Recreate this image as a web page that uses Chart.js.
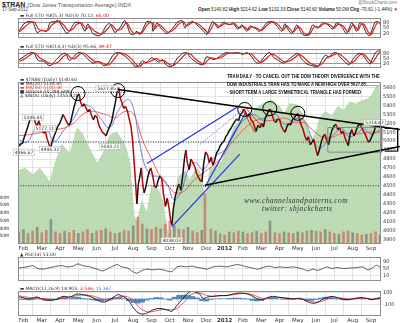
<!DOCTYPE html>
<html lang="en">
<head>
<meta charset="UTF-8">
<title>$TRAN Daily</title>
<script src="https://cdn.jsdelivr.net/npm/chart.js"></script>
<style>
  body { margin:0; width:400px; height:323px; background:#fff; position:relative; overflow:hidden; font-family:"Liberation Sans", Arial, sans-serif; }
  canvas { position:absolute; left:0; }
  .txt { position:absolute; white-space:nowrap; line-height:1; color:#222; }
  .leg { position:absolute; white-space:nowrap; font-size:4.5px; line-height:4px; color:#333; font-family:"DejaVu Sans", sans-serif; }
  .note { position:absolute; left:227px; top:72px; font-weight:bold; font-size:5px; line-height:8px; color:#111; transform:scaleX(0.84); transform-origin:left top; white-space:nowrap; }
  .mark { position:absolute; font-family:"Liberation Serif", serif; font-style:italic; color:#333; white-space:nowrap; letter-spacing:0.4px; }
</style>
</head>
<body>
<div class="txt" style="left:2px;top:1px;font-size:7px"><b>$TRAN</b> <span style="color:#555;font-size:5.5px">(Dow Jones Transportation Average) INDX</span></div>
<div class="txt" style="left:2px;top:8px;font-size:4.5px;color:#444">17-Sep-2012</div>
<div class="txt" style="right:3px;top:1px;font-size:4.5px;color:#777">@StockCharts.com</div>
<div class="txt" style="right:2px;top:8px;font-size:4.6px"><b>Open</b> 5140.82 <b>High</b> 5214.62 <b>Low</b> 5132.33 <b>Close</b> 5140.60 <b>Volume</b> 50.0M <b>Chg</b> -70.61 (-1.44%) <span style="color:#c00">&#9660;</span></div>

<canvas id="sto1" width="400" height="30" style="top:13px"></canvas>
<canvas id="sto2" width="400" height="29" style="top:44px"></canvas>
<canvas id="main" width="400" height="178" style="top:74px"></canvas>
<canvas id="rsi" width="400" height="34" style="top:252px"></canvas>
<canvas id="macd" width="400" height="37" style="top:286px"></canvas>

<div class="leg" style="left:20px;top:14px">&#9644; Full STO %K(5,3) %D(3) 70.12, <span style="color:#d00">65.00</span></div>
<div class="leg" style="left:20px;top:45px">&#9644; Full STO %K(14,3) %D(3) 95.66, <span style="color:#d00">89.47</span></div>
<div class="leg" style="left:20px;top:78px">
  <div>&#9644; $TRAN (Daily) 5140.60</div>
  <div style="color:#2233cc">&#9644; <span style="color:#333">MA(20) 5134.45</span></div>
  <div style="color:#e33">&#9644; MA(50) 5100.38</div>
  <div>&#9632; Volume 50,288,688</div>
  <div><span style="color:#7aa870">&#9650;</span> $INDU (Daily) 13553.10</div>
</div>
<div class="leg" style="left:20px;top:253px">&#9650; RSI(14) 53.00</div>
<div class="leg" style="left:20px;top:287px">&#9644; MACD(12,26,9) 18.903, <span style="color:#d00">3.536</span>, <span style="color:#3b7dbf">15.367</span></div>

<div class="note">
  <div>TRAN DAILY - TO CANCEL OUT THE DOW THEORY DIVERGENCE WITH THE</div>
  <div>DOW INDUSTRIALS TRAN HAS TO MAKE A NEW HIGH OVER 5627.85..........</div>
  <div>- SHORT TERM A LARGE SYMMETRICAL TRIANGLE HAS FORMED</div>
</div>
<div class="mark" style="left:244px;top:196px;font-size:7.5px">www.channelsandpatterns.com</div>
<div class="mark" style="left:262px;top:204px;font-size:7.5px">twitter: shjackcharts</div>

<script>
// x values are months: 1 = Feb 2011 ... 20 = Sep 2012
const monthLabels = ['Feb','Mar','Apr','May','Jun','Jul','Aug','Sep','Oct','Nov','Dec','2012','Feb','Mar','Apr','May','Jun','Jul','Aug','Sep'];
const X_MIN = 0.70, X_MAX = 20.55;

const tranClose = [[0.70,4990],[0.78,4945],[0.86,4975],[0.94,4970],[1.02,5030],[1.12,5090],[1.22,5150],[1.32,5220],[1.42,5260],[1.52,5300],[1.60,5240],[1.68,5190],[1.76,5180],[1.84,5230],[1.92,5170],[2.00,5140],[2.10,5090],[2.20,5110],[2.30,5020],[2.40,4960],[2.48,4920],[2.56,4990],[2.66,5050],[2.76,5100],[2.86,5160],[2.96,5190],[3.06,5240],[3.16,5300],[3.26,5260],[3.36,5220],[3.46,5180],[3.56,5200],[3.66,5290],[3.76,5380],[3.86,5450],[3.96,5510],[4.04,5530],[4.12,5440],[4.22,5390],[4.32,5420],[4.42,5370],[4.52,5330],[4.62,5360],[4.72,5290],[4.82,5240],[4.92,5290],[5.02,5270],[5.12,5180],[5.22,5140],[5.32,5100],[5.42,5080],[5.52,5060],[5.62,5120],[5.72,5170],[5.82,5220],[5.92,5330],[6.02,5430],[6.12,5560],[6.20,5600],[6.28,5500],[6.38,5430],[6.48,5370],[6.58,5390],[6.68,5340],[6.78,5250],[6.88,5160],[6.96,5020],[7.04,4800],[7.12,4560],[7.20,4300],[7.28,4520],[7.36,4600],[7.44,4700],[7.52,4520],[7.60,4420],[7.68,4480],[7.76,4560],[7.86,4650],[7.96,4700],[8.06,4620],[8.16,4500],[8.26,4480],[8.36,4560],[8.46,4610],[8.56,4580],[8.66,4400],[8.76,4270],[8.86,4360],[8.96,4250],[9.04,4120],[9.11,4060],[9.20,4250],[9.30,4380],[9.40,4460],[9.50,4520],[9.60,4450],[9.70,4600],[9.80,4800],[9.88,4900],[9.96,4760],[10.06,4680],[10.16,4800],[10.26,4760],[10.36,4720],[10.46,4640],[10.56,4600],[10.66,4560],[10.76,4545],[10.86,4760],[10.96,4880],[11.06,4850],[11.16,4760],[11.26,4820],[11.36,4730],[11.46,4790],[11.56,4870],[11.66,4900],[11.76,4950],[11.86,4980],[11.96,5000],[12.06,5050],[12.16,5080],[12.26,5120],[12.36,5150],[12.46,5190],[12.56,5220],[12.66,5250],[12.76,5230],[12.86,5300],[12.96,5320],[13.06,5360],[13.14,5330],[13.24,5280],[13.34,5310],[13.44,5240],[13.54,5220],[13.64,5160],[13.72,5110],[13.82,5180],[13.92,5150],[14.02,5200],[14.12,5160],[14.22,5260],[14.32,5300],[14.42,5350],[14.50,5360],[14.60,5290],[14.70,5230],[14.80,5210],[14.90,5250],[15.00,5240],[15.10,5170],[15.20,5130],[15.30,5100],[15.40,5160],[15.50,5200],[15.60,5180],[15.70,5240],[15.80,5260],[15.90,5290],[16.00,5310],[16.08,5260],[16.18,5180],[16.28,5140],[16.38,5060],[16.48,5010],[16.58,5050],[16.68,4960],[16.78,4990],[16.88,5020],[16.98,4920],[17.08,4840],[17.18,4900],[17.28,4990],[17.38,5050],[17.48,5080],[17.58,5010],[17.68,4960],[17.78,5060],[17.88,5130],[17.98,5170],[18.08,5190],[18.18,5130],[18.28,5150],[18.38,5090],[18.48,5110],[18.58,5040],[18.68,4990],[18.76,4950],[18.86,5080],[18.96,5130],[19.06,5060],[19.16,5100],[19.26,5160],[19.36,5190],[19.46,5170],[19.56,5120],[19.66,5090],[19.76,5040],[19.86,4990],[19.96,5010],[20.06,5060],[20.16,5100],[20.26,5170],[20.36,5190],[20.46,5211],[20.53,5141]];

const ma20 = [[0.70,5020],[1.2,4990],[1.7,5150],[2.2,5150],[2.7,5000],[3.2,5120],[3.7,5240],[4.2,5400],[4.7,5380],[5.2,5260],[5.7,5150],[6.2,5350],[6.7,5470],[7.0,5380],[7.3,5050],[7.6,4750],[8.0,4620],[8.5,4600],[8.9,4500],[9.2,4350],[9.6,4420],[10.0,4680],[10.4,4760],[10.8,4680],[11.2,4770],[11.6,4850],[12.0,4900],[12.4,5060],[12.8,5180],[13.2,5260],[13.6,5300],[14.0,5250],[14.4,5280],[14.8,5300],[15.2,5200],[15.6,5200],[16.0,5260],[16.4,5220],[16.8,5020],[17.2,4920],[17.6,5000],[18.0,5080],[18.4,5140],[18.8,5050],[19.2,5080],[19.6,5140],[20.0,5080],[20.53,5130]];

const ma50 = [[0.70,5060],[1.5,5080],[2.5,5120],[3.5,5170],[4.5,5330],[5.5,5300],[6.0,5260],[6.5,5330],[7.0,5310],[7.5,5020],[8.0,4800],[8.5,4600],[9.0,4480],[9.3,4420],[9.8,4440],[10.3,4560],[10.8,4640],[11.3,4720],[11.8,4810],[12.3,4960],[12.8,5080],[13.3,5180],[13.8,5240],[14.3,5230],[14.8,5240],[15.3,5260],[15.8,5210],[16.3,5210],[16.8,5130],[17.3,5050],[17.8,5040],[18.3,5080],[18.8,5090],[19.3,5080],[19.8,5100],[20.53,5100]];

const induClose = [[0.70,11931],[1.08,11985],[1.52,11858],[1.90,11985],[2.45,11713],[2.72,12076],[3.10,12440],[3.54,12258],[3.92,12749],[4.20,12658],[4.63,12349],[5.02,12076],[5.34,12258],[5.73,12622],[6.11,12676],[6.55,12440],[6.82,12076],[7.04,11076],[7.20,10949],[7.48,11349],[7.75,11131],[8.02,11658],[8.35,11585],[8.62,11349],[8.90,10713],[9.11,10804],[9.44,11804],[9.83,11931],[10.10,11749],[10.43,11985],[10.75,11858],[10.92,11258],[11.19,11985],[11.52,12040],[11.85,12113],[12.17,12440],[12.56,12804],[12.99,12949],[13.38,13022],[13.81,13167],[14.20,13240],[14.58,13295],[15.02,13167],[15.24,13022],[15.56,13222],[15.95,13204],[16.27,13022],[16.55,12713],[16.76,12531],[16.98,12658],[17.20,12949],[17.52,13076],[17.85,12985],[18.19,13167],[18.51,13095],[18.84,13258],[19.17,13222],[19.50,13276],[19.83,13313],[20.04,13385],[20.31,13567],[20.53,13604]];

// volume in millions, roughly weekly
const volume = [[0.75,80],[1.0,95],[1.25,70],[1.5,85],[1.75,110],[2.0,75],[2.25,90],[2.5,160],[2.75,80],[3.0,70],[3.25,85],[3.5,75],[3.75,90],[4.0,70],[4.25,80],[4.5,95],[4.75,70],[5.0,85],[5.25,90],[5.5,100],[5.75,80],[6.0,70],[6.25,75],[6.5,90],[6.75,85],[7.0,120],[7.25,175],[7.5,130],[7.75,100],[8.0,95],[8.25,110],[8.5,100],[8.75,130],[9.0,150],[9.25,120],[9.5,100],[9.75,95],[10.0,110],[10.25,85],[10.5,75],[10.75,90],[10.92,330],[11.25,100],[11.5,85],[11.75,70],[12.0,60],[12.25,80],[12.5,75],[12.75,85],[13.0,80],[13.25,70],[13.5,75],[13.75,85],[14.0,70],[14.25,80],[14.48,150],[14.75,75],[15.0,70],[15.25,80],[15.5,75],[15.75,70],[16.0,80],[16.25,75],[16.5,85],[16.75,90],[17.0,85],[17.25,80],[17.5,95],[17.75,80],[18.0,70],[18.25,65],[18.5,80],[18.75,85],[19.0,75],[19.25,70],[19.5,60],[19.75,65],[20.0,70],[20.25,80],[20.5,60]];

const sto1K = [[0.70,21],[0.97,68],[1.25,86],[1.52,80],[1.74,27],[2.01,39],[2.28,33],[2.45,80],[2.72,86],[2.89,92],[3.16,51],[3.38,21],[3.65,57],[3.81,80],[4.09,80],[4.36,33],[4.52,74],[4.80,21],[5.18,10],[5.56,68],[5.73,74],[6.00,27],[6.27,51],[6.55,92],[6.83,21],[6.98,15],[7.20,33],[7.37,15],[7.75,86],[8.02,80],[8.08,33],[8.30,80],[8.46,57],[8.62,39],[8.84,21],[9.17,51],[9.39,80],[9.66,92],[9.83,51],[9.99,74],[10.26,86],[10.54,62],[10.75,45],[11.03,15],[11.19,57],[11.36,86],[11.63,51],[11.90,80],[12.28,68],[12.45,80],[12.72,45],[12.94,68],[13.21,33],[13.38,62],[13.65,51],[13.92,33],[14.31,80],[14.58,86],[14.85,62],[15.13,33],[15.29,74],[15.45,45],[15.67,21],[15.95,68],[16.11,39],[16.27,15],[16.55,12],[16.82,68],[17.09,51],[17.36,80],[17.64,68],[17.92,45],[18.13,80],[18.40,57],[18.67,21],[18.95,80],[19.22,33],[19.39,80],[19.55,68],[19.77,21],[19.93,10],[20.21,80],[20.37,86],[20.53,70]];
const sto1D = [[0.78,30],[1.05,55],[1.33,78],[1.60,82],[1.82,45],[2.09,35],[2.36,40],[2.53,65],[2.80,84],[2.97,88],[3.24,62],[3.46,35],[3.73,48],[3.89,70],[4.17,78],[4.44,45],[4.60,60],[4.88,35],[5.26,18],[5.64,50],[5.81,70],[6.08,40],[6.35,45],[6.63,80],[6.91,35],[7.06,20],[7.28,28],[7.45,22],[7.83,75],[8.10,78],[8.16,45],[8.38,70],[8.54,62],[8.70,45],[8.92,28],[9.25,45],[9.47,70],[9.74,86],[9.91,62],[10.07,70],[10.34,82],[10.62,68],[10.83,50],[11.11,25],[11.27,48],[11.44,78],[11.71,58],[11.98,74],[12.36,70],[12.53,76],[12.80,52],[13.02,62],[13.29,40],[13.46,55],[13.73,52],[14.00,38],[14.39,72],[14.66,84],[14.93,68],[15.21,40],[15.37,65],[15.53,50],[15.75,28],[16.03,60],[16.19,45],[16.35,22],[16.63,15],[16.90,58],[17.17,55],[17.44,74],[17.72,70],[18.00,52],[18.21,72],[18.48,62],[18.75,30],[19.03,70],[19.30,40],[19.47,72],[19.63,70],[19.85,30],[20.01,15],[20.29,70],[20.45,82],[20.53,65]];

const sto2K = [[0.70,40],[1.0,60],[1.3,80],[1.55,85],[1.8,40],[2.1,35],[2.45,10],[2.8,45],[3.1,75],[3.3,80],[3.5,40],[3.7,55],[4.0,85],[4.2,80],[4.5,50],[4.8,25],[5.1,35],[5.4,10],[5.6,20],[5.9,70],[6.1,85],[6.3,80],[6.6,60],[6.9,30],[7.1,5],[7.3,10],[7.5,40],[7.7,25],[8.0,55],[8.2,45],[8.4,30],[8.6,45],[8.8,15],[9.1,5],[9.4,50],[9.7,80],[9.9,85],[10.1,60],[10.3,40],[10.6,20],[10.8,15],[11.0,60],[11.2,55],[11.4,45],[11.7,60],[11.9,75],[12.1,85],[12.4,80],[12.7,85],[13.0,75],[13.2,85],[13.4,70],[13.7,30],[13.9,25],[14.2,65],[14.45,85],[14.7,55],[14.95,40],[15.2,25],[15.5,45],[15.8,70],[16.0,80],[16.2,50],[16.5,20],[16.8,10],[17.1,5],[17.3,40],[17.5,70],[17.7,60],[17.9,80],[18.1,85],[18.3,60],[18.6,30],[18.8,15],[19.0,45],[19.2,70],[19.4,80],[19.6,65],[19.8,35],[19.95,20],[20.1,55],[20.3,90],[20.53,95.7]];
const sto2D = [[0.78,35],[1.08,50],[1.38,72],[1.63,82],[1.88,55],[2.18,38],[2.53,20],[2.88,30],[3.18,62],[3.38,75],[3.58,55],[3.78,50],[4.08,75],[4.28,82],[4.58,60],[4.88,35],[5.18,30],[5.48,18],[5.68,15],[5.98,50],[6.18,78],[6.38,82],[6.68,68],[6.98,40],[7.18,15],[7.38,8],[7.58,28],[7.78,30],[8.08,42],[8.28,50],[8.48,38],[8.68,40],[8.88,25],[9.18,10],[9.48,35],[9.78,68],[9.98,82],[10.18,72],[10.38,50],[10.68,28],[10.88,18],[11.08,42],[11.28,55],[11.48,50],[11.78,55],[11.98,68],[12.18,80],[12.48,82],[12.78,82],[13.08,78],[13.28,80],[13.48,75],[13.78,42],[13.98,28],[14.28,50],[14.53,75],[14.78,68],[15.03,48],[15.28,32],[15.58,38],[15.88,60],[16.08,75],[16.28,62],[16.58,32],[16.88,15],[17.18,10],[17.38,28],[17.58,55],[17.78,62],[17.98,72],[18.18,80],[18.38,70],[18.68,42],[18.88,22],[19.08,35],[19.28,60],[19.48,75],[19.68,70],[19.88,45],[20.03,28],[20.18,40],[20.38,75],[20.53,89.5]];

const rsi14 = [[0.70,51],[1.19,58],[1.52,65],[1.74,51],[2.07,45],[2.45,54],[2.83,62],[3.10,65],[3.38,58],[3.70,62],[3.98,75],[4.25,65],[4.63,58],[5.02,45],[5.34,35],[5.73,54],[6.11,71],[6.38,58],[6.71,51],[6.98,31],[7.20,22],[7.48,38],[7.75,45],[8.08,41],[8.46,45],[8.84,35],[9.11,31],[9.39,58],[9.66,62],[9.93,58],[10.21,62],[10.54,54],[10.75,51],[11.03,45],[11.36,58],[11.74,62],[12.12,58],[12.39,65],[12.67,71],[12.83,69],[13.21,58],[13.54,51],[13.81,45],[14.20,58],[14.47,62],[14.74,54],[15.02,58],[15.40,54],[15.73,58],[16.11,51],[16.38,41],[16.55,35],[16.82,45],[17.09,38],[17.36,49],[17.58,58],[17.86,49],[18.13,54],[18.46,49],[18.84,51],[19.22,54],[19.55,58],[19.83,41],[20.10,54],[20.31,67],[20.53,53]];

const macdLine = [[0.70,43],[0.97,19],[1.36,0],[1.74,33],[2.07,-14],[2.45,-24],[2.83,-5],[3.16,43],[3.54,33],[3.92,81],[4.25,71],[4.63,43],[5.02,-14],[5.29,-52],[5.56,-38],[5.89,24],[6.16,71],[6.44,43],[6.71,-14],[6.98,-133],[7.26,-228],[7.53,-252],[7.80,-228],[8.08,-181],[8.46,-157],[8.84,-181],[9.11,-205],[9.39,-109],[9.66,-14],[9.93,81],[10.21,128],[10.48,105],[10.64,81],[10.81,10],[11.08,33],[11.36,43],[11.74,57],[12.12,57],[12.45,81],[12.72,95],[12.99,95],[13.27,81],[13.54,43],[13.81,0],[14.09,-14],[14.36,24],[14.63,43],[15.02,24],[15.40,10],[15.73,0],[16.11,10],[16.49,-38],[16.76,-71],[17.04,-62],[17.31,-14],[17.59,24],[17.92,43],[18.30,10],[18.67,-14],[19.00,0],[19.39,24],[19.77,10],[20.04,-14],[20.31,10],[20.53,19]];
const macdSignal = [[0.70,55],[1.2,30],[1.7,15],[2.2,5],[2.7,-10],[3.2,10],[3.7,40],[4.2,65],[4.7,55],[5.2,10],[5.6,-25],[6.0,5],[6.4,45],[6.8,20],[7.1,-60],[7.4,-160],[7.8,-215],[8.2,-200],[8.6,-175],[9.0,-180],[9.3,-170],[9.7,-80],[10.0,20],[10.3,90],[10.7,95],[11.0,60],[11.4,45],[11.8,52],[12.2,60],[12.6,78],[13.0,90],[13.4,80],[13.8,40],[14.1,10],[14.5,22],[14.9,28],[15.4,15],[15.8,5],[16.2,0],[16.6,-30],[17.0,-55],[17.4,-30],[17.8,15],[18.2,20],[18.6,5],[19.0,-2],[19.4,12],[19.8,8],[20.2,-5],[20.53,3.5]];
const macdHist = [[0.75,-10],[1.0,-8],[1.25,-15],[1.5,-10],[1.75,15],[2.0,5],[2.25,-15],[2.5,-20],[2.75,-5],[3.0,20],[3.25,30],[3.5,5],[3.75,25],[4.0,30],[4.25,10],[4.5,-5],[4.75,-15],[5.0,-25],[5.25,-35],[5.5,-15],[5.75,10],[6.0,25],[6.25,30],[6.5,5],[6.75,-30],[7.0,-60],[7.25,-70],[7.5,-55],[7.75,-20],[8.0,10],[8.25,25],[8.5,20],[8.75,-5],[9.0,-20],[9.25,30],[9.5,60],[9.75,65],[10.0,60],[10.25,40],[10.5,15],[10.75,-30],[11.0,-35],[11.25,-10],[11.5,0],[11.75,5],[12.0,2],[12.25,10],[12.5,15],[12.75,15],[13.0,8],[13.25,-5],[13.5,-25],[13.75,-35],[14.0,-25],[14.25,5],[14.5,20],[14.75,10],[15.0,0],[15.25,-5],[15.5,-8],[15.75,-5],[16.0,5],[16.25,-10],[16.5,-25],[16.75,-25],[17.0,-10],[17.25,15],[17.5,30],[17.75,25],[18.0,10],[18.25,-5],[18.5,-15],[18.75,-15],[19.0,0],[19.25,12],[19.5,8],[19.75,0],[20.0,-10],[20.25,5],[20.5,15]];

// hand-drawn annotations, in (month, price)
const triangleUpper = [[6.16,5579],[21.58,5132]];
const triangleLower = [[10.92,4505],[21.58,4941]];
const bracket = [[20.75,5143],[21.46,5143],[21.46,4888],[20.75,4888]];
const boxRange = [[17.64,5154],[20.59,5154],[20.59,4877],[17.64,4877],[17.64,5154]];
const blueLines = [[[7.75,4750],[12.72,5387]],[[9.11,4040],[12.83,4856]],[[10.92,4484],[13.16,5324]]];
const blueDashed = [[10.64,4962],[13.0,5356]];
const redLines = [[[12.94,5366],[13.65,5100]],[[13.10,5387],[14.08,5154]]];
const dottedLevels = [[0.70,20.55,4500],[0.70,20.55,4990],[0.70,6.5,5547]];
const circled = [[3.98,5535],[6.16,5568],[13.10,5356],[14.47,5366],[16.0,5313]];
const priceTags = [[1.52,5270,'5306.45'],[2.17,5143,'5177.11'],[1.03,4877,'4966.67'],[2.45,4909,'4906.32'],[5.73,4941,'5043.21'],[5.55,5595,'5627.85'],[9.11,3889,'4038.03'],[20.2,5207,'5214.62']];

const pts = a => a.map(([x, y]) => ({x, y}));
const FONT = 'DejaVu Sans';

const frame = {
  id: 'frame',
  afterDraw(c) {
    const {ctx, chartArea: a} = c;
    ctx.save();
    ctx.strokeStyle = '#8c8c8c';
    ctx.lineWidth = 1;
    ctx.strokeRect(a.left + 0.5, a.top + 0.5, a.right - a.left - 1, a.bottom - a.top - 1);
    ctx.restore();
  }
};

const tags = {
  id: 'tags',
  afterDatasetsDraw(c) {
    const xs = c.scales.x, ys = c.scales.y, ctx = c.ctx;
    ctx.save();
    ctx.font = '4.5px "' + FONT + '"';
    ctx.textAlign = 'center';
    ctx.textBaseline = 'middle';
    priceTags.forEach(([m, v, t]) => {
      const x = xs.getPixelForValue(m), y = ys.getPixelForValue(v);
      const w = ctx.measureText(t).width + 3;
      ctx.fillStyle = 'rgba(255,255,255,0.9)';
      ctx.fillRect(x - w / 2, y - 3, w, 6);
      ctx.strokeStyle = '#aaa';
      ctx.lineWidth = 0.5;
      ctx.strokeRect(x - w / 2, y - 3, w, 6);
      ctx.fillStyle = '#333';
      ctx.fillText(t, x, y + 0.3);
    });
    ctx.restore();
  }
};

function xAxis(showLabels) {
  return {
    type: 'linear', min: X_MIN, max: X_MAX, offset: false,
    afterBuildTicks: s => { s.ticks = monthLabels.map((_, i) => ({value: i + 1})); },
    ticks: {
      display: showLabels, autoSkip: false, maxRotation: 0, padding: 1, color: '#333',
      font: c => ({family: FONT, size: 5.5, weight: (c.tick && c.tick.value === 12) ? 'bold' : 'normal'}),
      callback: v => monthLabels[v - 1] || ''
    },
    grid: {color: '#e3e3e3', drawTicks: false},
    border: {display: false},
    afterFit: s => { s.height = showLabels ? 7 : 0; }
  };
}

function yRight(min, max, vals, strong, fmt) {
  return {
    position: 'right', min, max,
    afterBuildTicks: s => { s.ticks = vals.map(v => ({value: v})); },
    ticks: {font: {family: FONT, size: 5}, color: '#333', padding: 2, callback: fmt || (v => v)},
    grid: {drawTicks: false, color: c => strong.includes(c.tick && c.tick.value) ? '#9a9a9a' : '#e3e3e3'},
    border: {display: false},
    afterFit: s => { s.width = 19; }
  };
}

const base = (padLeft) => ({
  responsive: false, animation: false, devicePixelRatio: 1, events: [],
  layout: {padding: {left: padLeft, right: 0, top: 0, bottom: 0}},
  plugins: {legend: {display: false}, tooltip: {enabled: false}},
  elements: {point: {radius: 0}, line: {tension: 0.25}}
});

function stoChart(id, k, d) {
  new Chart(document.getElementById(id), {
    type: 'line',
    data: {datasets: [
      {data: pts(d), borderColor: '#e02020', borderWidth: 1.2},
      {data: pts(k), borderColor: '#111', borderWidth: 0.9}
    ]},
    options: Object.assign(base(18), {scales: {x: xAxis(false), y: yRight(-3, 105, [80, 50, 20], [80, 20])}}),
    plugins: [frame]
  });
}
stoChart('sto1', sto1K, sto1D);
stoChart('sto2', sto2K, sto2D);

const lineSet = (pairs, color, width, extra) => Object.assign({
  data: pts(pairs), borderColor: color, borderWidth: width, pointRadius: 0, tension: 0, order: 1, clip: false
}, extra || {});

const mainSets = [
  {data: pts(induClose), yAxisID: 'yi', borderColor: '#a6cf9c', borderWidth: 0.6, backgroundColor: 'rgba(178,214,168,0.85)', fill: 'start', tension: 0, order: 10},
  {type: 'bar', data: pts(volume), yAxisID: 'yv', order: 9, barPercentage: 0.85, categoryPercentage: 1,
   backgroundColor: volume.map((_, i) => i % 3 === 1 ? 'rgba(105,105,105,0.6)' : 'rgba(205,95,85,0.65)')},
  {data: pts(ma50), borderColor: '#f05050', borderWidth: 0.9, tension: 0.4, order: 4},
  {data: pts(ma20), borderColor: '#4050d0', borderWidth: 0.7, tension: 0.4, order: 4},
  {data: pts(tranClose), borderWidth: 1.5, tension: 0, order: 3,
   segment: {borderColor: c => c.p1.parsed.y < c.p0.parsed.y ? '#c00000' : '#111'}},
  lineSet(triangleUpper, '#000', 1.6),
  lineSet(triangleLower, '#000', 1.6),
  lineSet(bracket, '#000', 1),
  lineSet(boxRange, '#777', 0.8),
  lineSet(blueDashed, '#7a8cf0', 0.9, {borderDash: [2, 1]}),
  ...blueLines.map(b => lineSet(b, '#1a2ee0', 1.1)),
  ...redLines.map(r => lineSet(r, '#e02020', 0.9)),
  ...dottedLevels.map(([a, b, v]) => lineSet([[a, v], [b, v]], '#222', 0.9, {borderDash: [1, 1.5], clip: true})),
  {data: pts(circled), showLine: false, pointRadius: 7, pointStyle: 'circle', pointBorderColor: '#000',
   pointBackgroundColor: 'rgba(0,0,0,0)', pointBorderWidth: 1, order: 0, clip: false}
];

new Chart(document.getElementById('main'), {
  type: 'line',
  data: {datasets: mainSets},
  options: Object.assign(base(0), {scales: {
    x: xAxis(true),
    y: yRight(3847, 5664, [3900,4000,4100,4200,4300,4400,4500,4600,4700,4800,4900,5000,5100,5200,5300,5400,5500,5600], []),
    yv: {position: 'left', min: 0, max: 1043,
      afterBuildTicks: s => { s.ticks = [50,100,150,200,250,300].map(v => ({value: v})); },
      ticks: {font: {family: FONT, size: 4.5}, color: '#333', padding: 1, callback: v => v + 'M'},
      grid: {display: false}, border: {display: false},
      afterFit: s => { s.width = 18; }},
    yi: {display: false, min: 10531, max: 13640}
  }}),
  plugins: [frame, tags]
});

new Chart(document.getElementById('rsi'), {
  type: 'line',
  data: {datasets: [{data: pts(rsi14), borderColor: '#333', borderWidth: 0.8, tension: 0.2}]},
  options: Object.assign(base(18), {scales: {x: xAxis(false), y: yRight(-22, 114, [90, 70, 50, 30, 10], [70, 30])}}),
  plugins: [frame]
});

new Chart(document.getElementById('macd'), {
  type: 'line',
  data: {datasets: [
    {type: 'bar', data: pts(macdHist), backgroundColor: 'rgba(40,110,180,0.8)', barPercentage: 1, categoryPercentage: 1, order: 5},
    {data: pts(macdSignal), borderColor: '#f04040', borderWidth: 0.9, tension: 0.4, order: 2},
    {data: pts(macdLine), borderColor: '#111', borderWidth: 0.9, tension: 0.3, order: 1}
  ]},
  options: Object.assign(base(18), {scales: {x: xAxis(true), y: yRight(-283, 132, [100, 0, -100, -200], [0])}}),
  plugins: [frame]
});
</script>
</body>
</html>
